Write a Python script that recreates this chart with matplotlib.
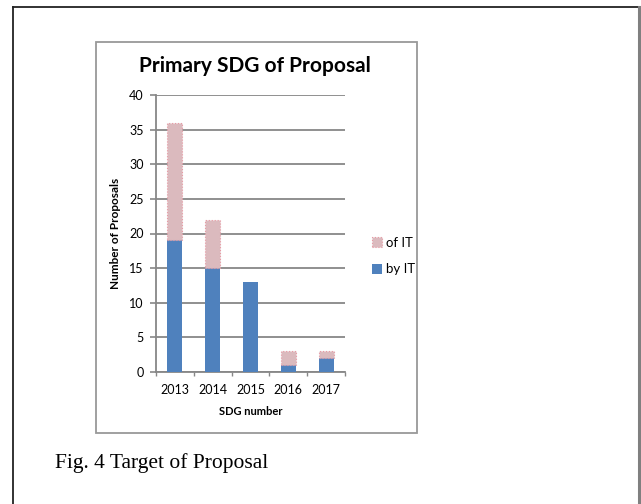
import matplotlib.pyplot as plt
from matplotlib.lines import Line2D
from matplotlib.patches import Rectangle

years = ["2013", "2014", "2015", "2016", "2017"]
by_it = [19, 15, 13, 1, 2]
of_it = [17, 7, 0, 2, 1]

W, H = 641, 504
BLUE = "#4F81BD"
PINK = "#DBBABE"
GRID = "#878787"

plt.rcParams["font.family"] = ["Lato", "DejaVu Sans"]


def fx(x):
    return x / W


def fy(y):
    return 1 - y / H


fig = plt.figure(figsize=(W / 100, H / 100), dpi=100)

# page frame (open at the bottom) and the chart area box
fig.add_artist(Line2D([fx(13), fx(13)], [fy(7), 0], color="#222222", lw=1.3))
fig.add_artist(Line2D([fx(13), fx(639)], [fy(7), fy(7)], color="#222222", lw=1.3))
fig.add_artist(Line2D([fx(639), fx(639)], [fy(7), 0], color="#808080", lw=2.2))
fig.add_artist(Rectangle((fx(96), fy(433)), fx(417) - fx(96), fy(42) - fy(433),
                         transform=fig.transFigure, fill=False,
                         edgecolor="#999999", lw=1.3))

ax = fig.add_axes([fx(156), fy(372), fx(345) - fx(156), fy(95) - fy(372)])

x = range(len(years))
ax.bar(x, by_it, width=0.4, color=BLUE, label="by IT", zorder=3)
# empty segments get no dotted outline
edges = ["#E79AA4" if v else "none" for v in of_it]
ax.bar(x, of_it, width=0.4, bottom=by_it, color=PINK, edgecolor=edges,
       linestyle=":", linewidth=0.8, label="of IT", zorder=3)

ax.set_xlim(-0.5, 4.5)
ax.set_ylim(0, 40)
ax.set_yticks(range(0, 41, 5))
ax.set_xticks(list(x))
ax.set_xticklabels(years)
ax.set_xticks([i - 0.5 for i in range(6)], minor=True)
ax.tick_params(axis="x", which="major", length=0, pad=9, labelsize=9)
ax.tick_params(axis="x", which="minor", length=3, color=GRID, width=1)
ax.tick_params(axis="y", length=4, color=GRID, width=1.2, pad=5, labelsize=9)

ax.grid(axis="y", color=GRID, lw=1.3, zorder=0)
for side in ["top", "right"]:
    ax.spines[side].set_visible(False)
ax.spines["left"].set_color(GRID)
ax.spines["left"].set_linewidth(1.3)
ax.spines["bottom"].set_color(GRID)
ax.spines["bottom"].set_linewidth(1.3)

ax.set_xlabel("SDG number", fontsize=8, fontweight="bold", labelpad=7)
ax.set_ylabel("Number of Proposals", fontsize=8.5, fontweight="bold", labelpad=6)

fig.text(fx(255), fy(66), "Primary SDG of Proposal", fontsize=15,
         fontweight="bold", ha="center", va="center")

handles, labels = ax.get_legend_handles_labels()
ax.legend(handles[::-1], labels[::-1], loc="center left", frameon=False,
          bbox_to_anchor=(fx(360), fy(256)), bbox_transform=fig.transFigure,
          handlelength=0.8, handleheight=0.8, handletextpad=0.3,
          labelspacing=1.1, fontsize=9.5)

fig.text(fx(55), fy(463), "Fig. 4 Target of Proposal", fontsize=15.5,
         family="Liberation Serif", ha="left", va="center")

fig.savefig("out.png", dpi=100)
